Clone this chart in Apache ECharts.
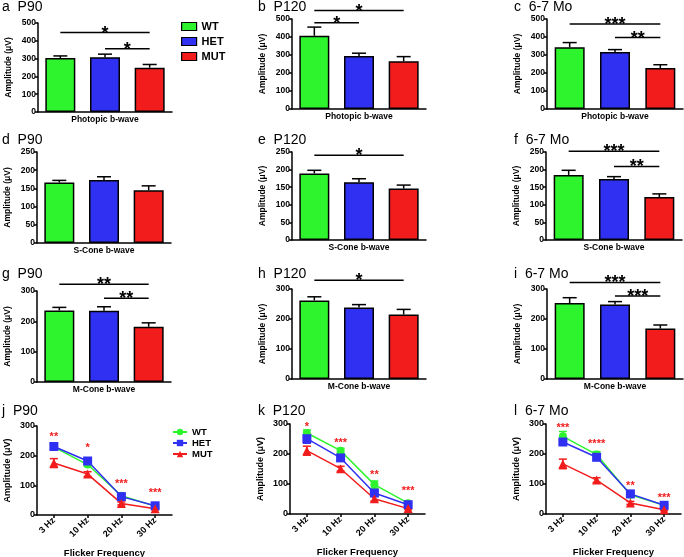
<!DOCTYPE html>
<html><head><meta charset="utf-8">
<script src="https://cdn.jsdelivr.net/npm/echarts@6/dist/echarts.min.js"></script>
<style>html,body{margin:0;padding:0;background:#fff}#c{width:684px;height:557px}</style>
</head><body><div id="c"></div><script>
// ---------- DATA ----------
const groups = ['WT', 'HET', 'MUT'];
const ampName = 'Amplitude (μV)';
const panelTitles = ['a  P90', 'b  P120', 'c  6-7 Mo', 'd  P90', 'e  P120', 'f  6-7 Mo',
                     'g  P90', 'h  P120', 'i  6-7 Mo', 'j  P90', 'k  P120', 'l  6-7 Mo'];
// Photopic b-wave
const photoP90 = [303, 307, 249];   const photoP90Err = [12, 18, 18];
const photoP120 = [407, 295, 265];  const photoP120Err = [48, 15, 26];
const photo67 = [343, 317, 228];    const photo67Err = [26, 13, 18];
// S-Cone b-wave
const sconeP90 = [166, 173, 145];   const sconeP90Err = [6, 9, 12];
const sconeP120 = [189, 164, 146];  const sconeP120Err = [9, 10, 10];
const scone67 = [185, 173, 122];    const scone67Err = [13, 7, 9];
// M-Cone b-wave
const mconeP90 = [236, 235, 182];   const mconeP90Err = [10, 13, 13];
const mconeP120 = [262, 238, 215];  const mconeP120Err = [12, 10, 17];
const mcone67 = [253, 248, 168];    const mcone67Err = [18, 10, 12];
// significance brackets: [from group, to group, level, stars]
const sigA = [[0, 2, 446, '*'], [1, 2, 356, '*']];
const sigB = [[0, 2, 547, '*'], [0, 1, 479, '*']];
const sigC = [[0, 2, 472, '***'], [1, 2, 397, '**']];
const sigD = [];
const sigE = [[0, 2, 241, '*']];
const sigF = [[0, 2, 252, '***'], [1, 2, 209, '**']];
const sigG = [[0, 2, 322, '**'], [1, 2, 276, '**']];
const sigH = [[0, 2, 329, '*']];
const sigI = [[0, 2, 322, '***'], [1, 2, 277, '***']];
// Flicker
const freqs = ['3 Hz', '10 Hz', '20 Hz', '30 Hz'];
const flkP90WT = [229, 170, 65, 30];   const flkP90WTErr = [8, 6, 5, 3];
const flkP90HET = [231, 182, 62, 31];  const flkP90HETErr = [10, 8, 6, 3];
const flkP90MUT = [175, 138, 39, 21];  const flkP90MUTErr = [15, 8, 5, 3];
const flkP120WT = [270, 211, 98, 36];  const flkP120WTErr = [10, 8, 12, 4];
const flkP120HET = [251, 187, 70, 31]; const flkP120HETErr = [15, 10, 8, 4];
const flkP120MUT = [211, 151, 51, 18]; const flkP120MUTErr = [15, 8, 8, 3];
const flk67WT = [259, 198, 64, 29];    const flk67WTErr = [16, 10, 6, 3];
const flk67HET = [240, 189, 67, 29];   const flk67HETErr = [8, 8, 6, 3];
const flk67MUT = [167, 113, 37, 14];   const flk67MUTErr = [16, 8, 5, 3];
const flkP90Stars = ['**', '*', '***', '***'];   const flkP90StarLvl = [273, 234, 115, 83];
const flkP120Stars = ['*', '***', '**', '***'];  const flkP120StarLvl = [300, 247, 140, 87];
const flk67Stars = ['***', '****', '**', '***']; const flk67StarLvl = [296, 242, 103, 62];

// ---------- STYLE ----------
const F = 'Liberation Sans, Arial, sans-serif';
const K = '#000';
const colors = { WT: '#2ef42e', HET: '#3030f2', MUT: '#f21c1c' };
const symbols = { WT: 'circle', HET: 'rect', MUT: 'triangle' };
const symSize = { WT: 8, HET: 9, MUT: 9 };

const grids = [], xAxes = [], yAxes = [], series = [];

function yAxisDef(k, max, interval, fs, gap) {
  return {
    gridIndex: k, type: 'value', min: 0, max: max, interval: interval,
    splitLine: { show: false },
    axisLine: { show: true, lineStyle: { color: K, width: 1.5 } },
    axisTick: { show: true, length: 3, lineStyle: { color: K, width: 1.5 } },
    axisLabel: { color: K, fontFamily: F, fontWeight: 'bold', fontSize: fs, margin: 2 },
    name: ampName, nameLocation: 'middle', nameGap: gap, nameRotate: 90,
    nameTextStyle: { color: K, fontFamily: F, fontWeight: 'bold', fontSize: fs }
  };
}

function addBarPanel(box, ymax, yint, xname, vals, errs, sigs) {
  const k = grids.length;
  grids.push({ left: box[0], top: box[1], width: box[2], height: box[3], containLabel: false, outerBoundsMode: 'none' });
  xAxes.push({
    gridIndex: k, type: 'category', data: groups,
    axisTick: { show: false }, axisLabel: { show: false },
    axisLine: { show: true, lineStyle: { color: K, width: 1.5 } },
    name: xname, nameLocation: 'middle', nameGap: 3,
    nameTextStyle: { color: K, fontFamily: F, fontWeight: 'bold', fontSize: 8.5, verticalAlign: 'top' }
  });
  yAxes.push(yAxisDef(k, ymax, yint, 8.5, 25));
  groups.forEach((g, i) => {
    series.push({
      type: 'bar', name: g, xAxisIndex: k, yAxisIndex: k, barWidth: 30, barGap: '-100%',
      data: vals.map((v, j) => (j === i ? v : '-')),
      itemStyle: { color: colors[g], borderColor: K, borderWidth: 1.5 },
      silent: true, z: 2
    });
  });
  series.push({
    type: 'custom', xAxisIndex: k, yAxisIndex: k, silent: true, z: 3, clip: false,
    data: vals.map((v, i) => [i, v, errs[i]]),
    renderItem: (p, api) => {
      const a = api.coord([api.value(0), api.value(1)]);
      const b = api.coord([api.value(0), api.value(1) + api.value(2)]);
      return { type: 'group', children: [
        { type: 'line', shape: { x1: a[0], y1: a[1], x2: b[0], y2: b[1] }, style: { stroke: K, lineWidth: 1.5 } },
        { type: 'line', shape: { x1: b[0] - 7, y1: b[1], x2: b[0] + 7, y2: b[1] }, style: { stroke: K, lineWidth: 1.5 } }
      ] };
    }
  });
  if (sigs.length) series.push({
    type: 'custom', xAxisIndex: k, yAxisIndex: k, silent: true, z: 4, clip: false,
    data: sigs.map(s => [s[0], s[2], s[1]]),
    renderItem: (p, api) => {
      const a = api.coord([api.value(0), api.value(1)]);
      const b = api.coord([api.value(2), api.value(1)]);
      return { type: 'group', children: [
        { type: 'line', shape: { x1: a[0], y1: a[1], x2: b[0], y2: b[1] }, style: { stroke: K, lineWidth: 1.5 } },
        { type: 'text', x: (a[0] + b[0]) / 2, y: a[1] + 1,
          style: { text: sigs[p.dataIndex][3], fill: K, fontFamily: F, fontWeight: 'bold', fontSize: 18, align: 'center', verticalAlign: 'middle' } }
      ] };
    }
  });
}

function addLinePanel(box, sets, errSets, stars, starLvl) {
  const k = grids.length;
  grids.push({ left: box[0], top: box[1], width: box[2], height: box[3], containLabel: false, outerBoundsMode: 'none' });
  xAxes.push({
    gridIndex: k, type: 'category', data: freqs, boundaryGap: true,
    axisTick: { show: true, alignWithLabel: true, length: 3, lineStyle: { color: K, width: 1.5 } },
    axisLabel: { color: K, fontFamily: F, fontWeight: 'bold', fontSize: 9, rotate: 45, margin: 4 },
    axisLine: { show: true, lineStyle: { color: K, width: 1.5 } },
    name: 'Flicker Frequency', nameLocation: 'middle', nameGap: 33,
    nameTextStyle: { color: K, fontFamily: F, fontWeight: 'bold', fontSize: 9.5, verticalAlign: 'top' }
  });
  yAxes.push(yAxisDef(k, 300, 100, 9, 25));
  groups.forEach((g, gi) => {
    const vals = sets[gi], errs = errSets[gi];
    series.push({
      type: 'custom', xAxisIndex: k, yAxisIndex: k, silent: true, z: 2,
      data: vals.map((v, i) => [i, v, errs[i]]),
      renderItem: (p, api) => {
        const a = api.coord([api.value(0), api.value(1) - api.value(2)]);
        const b = api.coord([api.value(0), api.value(1) + api.value(2)]);
        const st = { stroke: colors[g], lineWidth: 1.5 };
        return { type: 'group', children: [
          { type: 'line', shape: { x1: a[0], y1: a[1], x2: b[0], y2: b[1] }, style: st },
          { type: 'line', shape: { x1: b[0] - 4, y1: b[1], x2: b[0] + 4, y2: b[1] }, style: st },
          { type: 'line', shape: { x1: a[0] - 4, y1: a[1], x2: a[0] + 4, y2: a[1] }, style: st }
        ] };
      }
    });
    series.push({
      type: 'line', name: g + ' ', xAxisIndex: k, yAxisIndex: k, data: vals,
      symbol: symbols[g], symbolSize: symSize[g], showAllSymbol: true,
      lineStyle: { color: colors[g], width: 1.5 }, itemStyle: { color: colors[g] },
      silent: true, z: 3
    });
  });
  series.push({
    type: 'custom', xAxisIndex: k, yAxisIndex: k, silent: true, z: 4, clip: false,
    data: starLvl.map((v, i) => [i, v]),
    renderItem: (p, api) => {
      const a = api.coord([api.value(0), api.value(1)]);
      return { type: 'text', x: a[0], y: a[1] + 2.6,
        style: { text: stars[p.dataIndex], fill: '#f01c1c', fontFamily: F, fontWeight: 'bold', fontSize: 11, align: 'center', verticalAlign: 'middle' } };
    }
  });
}

// ---------- PANELS ----------
addBarPanel([38, 23, 134, 89], 500, 100, 'Photopic b-wave', photoP90, photoP90Err, sigA);
addBarPanel([292, 19, 134, 90], 500, 100, 'Photopic b-wave', photoP120, photoP120Err, sigB);
addBarPanel([547, 19, 136, 90], 500, 100, 'Photopic b-wave', photo67, photo67Err, sigC);
addBarPanel([37, 152, 134, 91], 250, 50, 'S-Cone b-wave', sconeP90, sconeP90Err, sigD);
addBarPanel([292, 152, 134, 88], 250, 50, 'S-Cone b-wave', sconeP120, sconeP120Err, sigE);
addBarPanel([546, 152, 136, 88], 250, 50, 'S-Cone b-wave', scone67, scone67Err, sigF);
addBarPanel([37, 291, 134, 91], 300, 100, 'M-Cone b-wave', mconeP90, mconeP90Err, sigG);
addBarPanel([292, 289, 134, 90], 300, 100, 'M-Cone b-wave', mconeP120, mconeP120Err, sigH);
addBarPanel([547, 289, 136, 90], 300, 100, 'M-Cone b-wave', mcone67, mcone67Err, sigI);
addLinePanel([37, 426, 135, 89], [flkP90WT, flkP90HET, flkP90MUT], [flkP90WTErr, flkP90HETErr, flkP90MUTErr], flkP90Stars, flkP90StarLvl);
addLinePanel([290, 424, 135, 90], [flkP120WT, flkP120HET, flkP120MUT], [flkP120WTErr, flkP120HETErr, flkP120MUTErr], flkP120Stars, flkP120StarLvl);
addLinePanel([546, 424, 135, 90], [flk67WT, flk67HET, flk67MUT], [flk67WTErr, flk67HETErr, flk67MUTErr], flk67Stars, flk67StarLvl);

const titlePos = [[2, 0], [258, 0], [514, 0], [2, 133], [258, 133], [514, 133],
                  [2, 267], [258, 267], [514, 267], [2, 404], [258, 404], [514, 404]];
const titles = panelTitles.map((t, i) => ({
  text: t, left: titlePos[i][0], top: titlePos[i][1], padding: 0,
  textStyle: { color: K, fontFamily: F, fontWeight: 'normal', fontSize: 14 }
}));

const chart = echarts.init(document.getElementById('c'), null, { renderer: 'canvas' });
chart.setOption({
  animation: false,
  backgroundColor: '#fff',
  title: titles,
  grid: grids, xAxis: xAxes, yAxis: yAxes, series: series,
  legend: [
    { data: groups, orient: 'vertical', left: 181, top: 21, padding: 0, itemGap: 4,
      itemWidth: 15, itemHeight: 8, icon: 'rect', selectedMode: false,
      itemStyle: { borderColor: K, borderWidth: 1.2 },
      textStyle: { color: K, fontFamily: F, fontWeight: 'bold', fontSize: 11 } },
    { data: groups.map(g => g + ' '), orient: 'vertical', left: 172, top: 427, padding: 0, itemGap: 1,
      itemWidth: 14, itemHeight: 8, selectedMode: false,
      textStyle: { color: K, fontFamily: F, fontWeight: 'bold', fontSize: 9.5 } }
  ]
});
</script></body></html>
